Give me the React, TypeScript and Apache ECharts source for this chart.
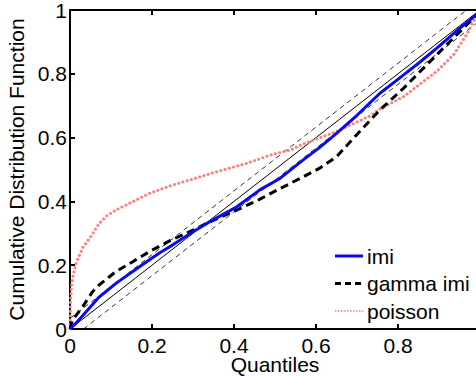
import React, { useEffect, useRef } from "react";
import * as echarts from "echarts";

const xTicks = [0, 0.2, 0.4, 0.6, 0.8, 1];
const yTicks = [0, 0.2, 0.4, 0.6, 0.8, 1];

const imi: [number, number][] = [
  [0, 0], [0.015, 0.019], [0.04, 0.055], [0.071, 0.1], [0.09, 0.12], [0.112, 0.143],
  [0.153, 0.18], [0.193, 0.216], [0.22, 0.24], [0.25, 0.263], [0.3, 0.305], [0.341, 0.336],
  [0.37, 0.357], [0.407, 0.383], [0.463, 0.436], [0.512, 0.472], [0.569, 0.53],
  [0.61, 0.57], [0.65, 0.613], [0.7, 0.67], [0.756, 0.739], [0.813, 0.796],
  [0.85, 0.833], [0.894, 0.88], [0.951, 0.943], [0.99, 0.984], [1, 1],
];

const gammaImi: [number, number][] = [
  [0, 0], [0.006, 0.028], [0.031, 0.07], [0.055, 0.117], [0.071, 0.138], [0.112, 0.18],
  [0.153, 0.211], [0.193, 0.242], [0.244, 0.277], [0.3, 0.31], [0.341, 0.336],
  [0.407, 0.373], [0.46, 0.405], [0.512, 0.44], [0.569, 0.477], [0.61, 0.505],
  [0.65, 0.54], [0.7, 0.61], [0.756, 0.687], [0.813, 0.754], [0.894, 0.859],
  [0.943, 0.922], [0.984, 0.974], [1, 1],
];

const poisson: [number, number][] = [
  [0, 0], [0.001, 0.08], [0.004, 0.14], [0.008, 0.17], [0.015, 0.207], [0.031, 0.255],
  [0.051, 0.29], [0.071, 0.331], [0.09, 0.355], [0.112, 0.373], [0.153, 0.399],
  [0.193, 0.425], [0.25, 0.451], [0.3, 0.47], [0.35, 0.49], [0.431, 0.519],
  [0.488, 0.545], [0.537, 0.561], [0.569, 0.58], [0.65, 0.619], [0.732, 0.668],
  [0.756, 0.69], [0.813, 0.728], [0.894, 0.807], [0.935, 0.859], [0.967, 0.922],
  [0.99, 0.979], [1, 1],
];

const diagonal: [number, number][] = [[0, 0], [1, 1]];
const bandLow: [number, number][] = [[0.033, 0], [1, 0.967]];
const bandHigh: [number, number][] = [[0, 0.033], [0.967, 1]];

const legendNames = ["imi", "gamma imi", "poisson"];

const FONT = "Liberation Sans";
const BLUE = "#0a0aee";
const PINK = "#ff7f7f";

export default function App() {
  const ref = useRef<HTMLDivElement>(null);
  useEffect(() => {
    if (!ref.current) return;
    const chart = echarts.init(ref.current, undefined, { renderer: "svg" });
    const axisLine = { show: true, lineStyle: { color: "#000", width: 2 } };
    const legendStyles = [
      { stroke: BLUE, lineWidth: 3 },
      { stroke: "#000", lineWidth: 3, lineDash: [6, 4] },
      { stroke: PINK, lineWidth: 1.5, lineDash: [1.5, 1.5] },
    ];
    const legendRows = [256, 283.5, 311];
    const legendGraphics: any[] = [];
    legendNames.forEach((n, i) => {
      legendGraphics.push({
        type: "line",
        shape: { x1: 335, y1: legendRows[i], x2: 363, y2: legendRows[i] },
        style: { ...legendStyles[i], fill: null },
        z: 10,
      });
      legendGraphics.push({
        type: "text",
        x: 367,
        y: legendRows[i],
        style: {
          text: n,
          font: `21px "${FONT}"`,
          fill: "#000",
          verticalAlign: "middle",
          align: "left",
        },
        z: 10,
      });
    });
    chart.setOption({
      animation: false,
      backgroundColor: "#fff",
      grid: { left: 70, top: 10, right: -4, bottom: 48, containLabel: false, outerBoundsMode: "none" },
      graphic: legendGraphics,
      xAxis: [
        {
          type: "value",
          min: 0,
          max: 1,
          interval: 0.2,
          name: "Quantiles",
          nameLocation: "middle",
          nameGap: 27,
          nameMoveOverlap: false,
          nameTextStyle: { fontSize: 21, lineHeight: 17, fontFamily: FONT, color: "#000" },
          axisLine,
          axisTick: { show: true, inside: true, length: 5, lineStyle: { color: "#000", width: 2 } },
          axisLabel: {
            fontSize: 21,
            lineHeight: 17,
            fontFamily: FONT,
            color: "#000",
            margin: 8,
            formatter: (v: number) => (v >= 1 ? "" : String(xTicks.find((t) => Math.abs(t - v) < 1e-9) ?? v)),
          },
          splitLine: { show: false },
        },
        {
          type: "value",
          position: "top",
          min: 0,
          max: 1,
          interval: 0.2,
          axisLine,
          axisTick: { show: true, inside: true, length: 5, lineStyle: { color: "#000", width: 2 } },
          axisLabel: { show: false },
          splitLine: { show: false },
        },
      ],
      yAxis: {
        type: "value",
        min: 0,
        max: 1,
        interval: 0.2,
        name: "Cumulative Distribution Function",
        nameLocation: "middle",
        nameGap: 34,
        nameTextStyle: { fontSize: 21, fontFamily: FONT, color: "#000" },
        axisLine,
        axisTick: { show: true, inside: true, length: 5, lineStyle: { color: "#000", width: 2 } },
        axisLabel: {
          fontSize: 21,
          fontFamily: FONT,
          color: "#000",
          margin: 3,
          formatter: (v: number) => String(yTicks.find((t) => Math.abs(t - v) < 1e-9) ?? v),
        },
        splitLine: { show: false },
      },
      series: [
        {
          type: "line", data: diagonal, symbol: "none", silent: true,
          lineStyle: { color: "#000", width: 1 }, z: 1,
        },
        {
          type: "line", data: bandLow, symbol: "none", silent: true,
          lineStyle: { color: "#000", width: 0.8, type: [5, 4] }, z: 1,
        },
        {
          type: "line", data: bandHigh, symbol: "none", silent: true,
          lineStyle: { color: "#000", width: 0.8, type: [5, 4] }, z: 1,
        },
        {
          name: "poisson", type: "line", data: poisson, symbol: "none",
          lineStyle: { color: PINK, width: 3, type: [0.1, 4.3], cap: "round" },
          z: 2,
        },
        {
          name: "gamma imi", type: "line", data: gammaImi, symbol: "none",
          lineStyle: { color: "#000", width: 3, type: [8, 5] },
          z: 3,
        },
        {
          name: "imi", type: "line", data: imi, symbol: "none",
          lineStyle: { color: BLUE, width: 3 },
          z: 4,
        },
      ],
    });
    return () => chart.dispose();
  }, []);
  return (
    <div
      ref={ref}
      style={{ position: "fixed", left: 0, top: 0, width: 476, height: 377, background: "#fff" }}
    />
  );
}
